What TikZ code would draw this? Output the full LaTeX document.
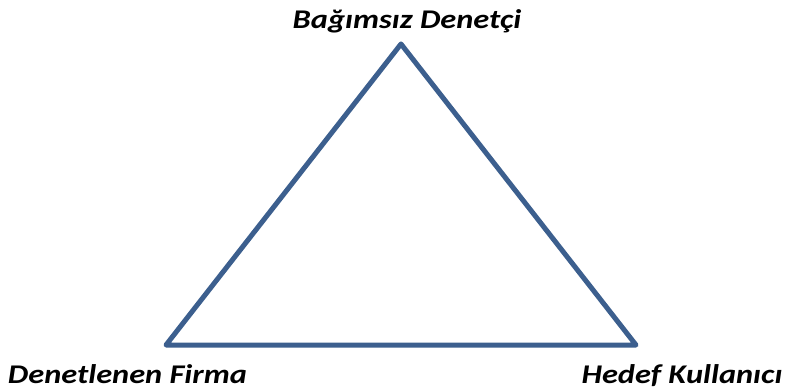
\documentclass[tikz,border=0pt]{standalone}
\usepackage{fontspec}
\setmainfont{Carlito}[FakeStretch=1.2]
\definecolor{triblue}{HTML}{3C5F8E}
\tikzset{
  lbl/.style={font=\fontsize{27}{32}\selectfont\bfseries\itshape, text=black, inner sep=0pt, anchor=base},
  edge/.style={draw=triblue, line width=5pt, line join=round}
}
\begin{document}
\begin{tikzpicture}[x=1pt,y=1pt]
\useasboundingbox (0,0) rectangle (787,391);
\coordinate (top) at (401,347);
\coordinate (bl) at (166,46);
\coordinate (br) at (636,46);
\draw[edge] (top) -- (br) -- (bl) -- cycle;
\node[lbl] (aud) at (407,362) {Bağımsız Denetçi};
\node[lbl] (firm) at (127.5,8) {Denetlenen Firma};
\node[lbl] (user) at (682,8) {Hedef Kullanıcı};
\end{tikzpicture}
\end{document}
